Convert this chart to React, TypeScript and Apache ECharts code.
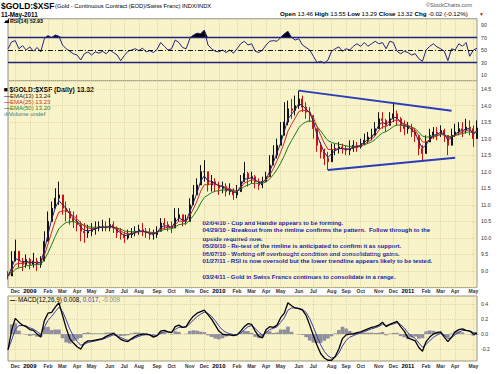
import React, { useEffect, useRef } from "react";
import * as echarts from "echarts";

// ---------- axis categories (weekly, Wednesdays, 19-Nov-2008 .. 11-May-2011) ----------
const DAY = 86400000;
const START_UTC = Date.UTC(2008, 10, 19);
const weekDates: string[] = Array.from({ length: 130 }, (_, i) =>
  new Date(START_UTC + i * 7 * DAY).toISOString().slice(0, 10)
);
const MONTH_NAMES = ["Jan", "Feb", "Mar", "Apr", "May", "Jun", "Jul", "Aug", "Sep", "Oct", "Nov", "Dec"];

// ---------- price data (weekly) ----------
const closes = [
  8.85, 9.3, 9.6, 9.3, 9.2, 9.35, 9.2, 9.3, 9.2, 9.3,
  9.9, 10.5, 10.9, 11.2, 11.3, 10.9, 10.8, 10.6, 10.5, 10.4,
  10.2, 10.15, 10.2, 10.25, 10.3, 10.35, 10.35, 10.3, 10.4, 10.3,
  10.15, 10.1, 10.0, 10.1, 10.15, 10.2, 10.25, 10.2, 10.15, 10.1,
  10.1, 10.2, 10.45, 10.4, 10.35, 10.3, 10.6, 10.7, 10.5, 10.5,
  11.0, 11.3, 11.6, 12.0, 12.0, 11.6, 11.7, 11.6, 11.5, 11.55,
  11.4, 11.45, 11.3, 11.4, 11.7, 11.95, 11.8, 11.85, 11.7, 11.6,
  11.7, 11.85, 12.2, 12.5, 12.8, 13.1, 13.5, 13.9, 13.85, 14.0,
  14.2, 13.95, 13.8, 13.7, 13.3, 12.8, 12.6, 12.4, 12.3, 12.65,
  12.7, 12.75, 12.7, 12.65, 12.7, 12.8, 12.75, 12.85, 12.95, 13.05,
  13.1, 13.3, 13.6, 13.55, 13.4, 13.6, 13.75, 13.6, 13.4, 13.3,
  13.35, 13.2, 13.1, 12.7, 12.55, 12.9, 13.1, 13.2, 13.15, 13.25,
  13.1, 12.8, 13.1, 13.2, 13.3, 13.25, 13.35, 13.3, 13.0, 13.32,
];
const highs = [
  9.0, 9.6, 9.95, 9.6, 9.4, 9.5, 9.4, 9.55, 9.4, 9.45,
  10.2, 10.8, 11.1, 11.5, 11.7, 11.3, 11.1, 10.9, 10.8, 10.7,
  10.5, 10.45, 10.4, 10.45, 10.5, 10.5, 10.55, 10.5, 10.6, 10.5,
  10.35, 10.3, 10.2, 10.25, 10.3, 10.35, 10.4, 10.45, 10.3, 10.3,
  10.25, 10.35, 10.6, 10.6, 10.5, 10.5, 10.9, 10.9, 10.7, 10.7,
  11.2, 11.6, 11.8, 12.2, 12.35, 12.0, 11.9, 11.8, 11.7, 11.7,
  11.65, 11.65, 11.5, 11.6, 11.9, 12.3, 12.0, 12.0, 11.9, 11.8,
  11.85, 12.0, 12.5, 12.8, 13.0, 13.5, 14.1, 14.15, 14.2, 14.3,
  14.45, 14.3, 14.1, 13.95, 13.7, 13.3, 12.9, 12.7, 12.6, 12.85,
  12.85, 12.9, 12.85, 12.8, 12.95, 12.95, 12.9, 13.0, 13.15, 13.2,
  13.3, 13.5, 13.8, 13.8, 13.6, 13.8, 14.1, 13.85, 13.65, 13.55,
  13.5, 13.45, 13.3, 13.05, 12.8, 13.1, 13.3, 13.35, 13.35, 13.4,
  13.3, 13.05, 13.3, 13.45, 13.5, 13.5, 13.6, 13.55, 13.4, 13.55,
];
const lows = [
  8.75, 8.9, 9.3, 9.1, 9.0, 9.1, 9.05, 9.1, 9.0, 9.1,
  9.3, 10.1, 10.6, 10.9, 11.0, 10.7, 10.5, 10.4, 10.3, 10.2,
  9.9, 9.85, 10.0, 10.05, 10.1, 10.2, 10.2, 10.2, 10.2, 10.15,
  10.0, 9.95, 9.85, 9.95, 10.0, 10.05, 10.1, 10.05, 10.0, 9.95,
  9.95, 10.0, 10.2, 10.25, 10.2, 10.15, 10.3, 10.5, 10.35, 10.4,
  10.6, 11.0, 11.3, 11.6, 11.7, 11.4, 11.4, 11.4, 11.3, 11.35,
  11.25, 11.3, 11.15, 11.2, 11.45, 11.7, 11.55, 11.65, 11.5, 11.45,
  11.5, 11.7, 11.9, 12.2, 12.4, 12.8, 13.2, 13.4, 13.6, 13.7,
  13.9, 13.8, 13.6, 13.5, 13.0, 12.6, 12.4, 12.2, 12.05, 12.4,
  12.5, 12.55, 12.55, 12.5, 12.5, 12.6, 12.6, 12.7, 12.8, 12.85,
  12.95, 13.1, 13.3, 13.3, 13.2, 13.4, 13.5, 13.4, 13.2, 13.1,
  13.15, 13.05, 12.9, 12.5, 12.35, 12.6, 12.9, 13.0, 12.95, 13.05,
  12.9, 12.5, 12.9, 13.05, 13.1, 13.05, 13.15, 13.1, 12.75, 13.29,
];

// trendlines: [week index, price]
const upperTrend = [[80, 14.45], [122, 13.84]];
const lowerTrend = [[88, 12.05], [123, 12.42]];

// ---------- RSI(14) (weekly samples) ----------
const rsi = [
  52, 63, 65, 52, 57, 50, 55, 48, 54, 47,
  68, 73, 70, 74, 72, 58, 52, 48, 44, 42,
  34, 44, 47, 42, 47, 45, 48, 44, 50, 46,
  42, 33, 41, 48, 50, 52, 49, 53, 47, 49,
  46, 51, 62, 56, 50, 52, 66, 62, 54, 52,
  68, 74, 77, 76, 82, 58, 52, 48, 47, 50,
  46, 50, 45, 52, 60, 64, 58, 60, 48, 46,
  50, 58, 64, 65, 64, 70, 76, 80, 70, 66,
  68, 58, 54, 50, 40, 30, 32, 29, 34, 48,
  52, 55, 48, 52, 50, 56, 60, 56, 62, 56,
  60, 64, 60, 62, 52, 64, 62, 48, 44, 48,
  46, 42, 44, 36, 32, 50, 56, 60, 55, 52,
  48, 33, 52, 50, 60, 56, 62, 40, 50, 52.93,
];
const rsiTicks = [10, 30, 50, 70, 90];

// ---------- MACD(12,26,9) line (weekly samples) ----------
const macd = [
  -0.21, 0.05, 0.21, 0.16, 0.12, 0.1, 0.06, 0.05, 0.0, -0.04,
  0.18, 0.28, 0.29, 0.36, 0.42, 0.25, 0.08, -0.06, -0.12, -0.17,
  -0.2, -0.12, -0.09, -0.09, -0.08, -0.07, -0.06, -0.03, -0.01, 0.01,
  -0.03, -0.07, -0.09, -0.1, -0.06, -0.03, -0.01, 0.0, 0.0, -0.01,
  -0.04, -0.02, 0.04, 0.05, 0.03, 0.02, 0.1, 0.12, 0.09, 0.1,
  0.18, 0.24, 0.28, 0.3, 0.32, 0.26, 0.2, 0.12, 0.04, 0.0,
  -0.01, -0.01, -0.02, -0.01, 0.04, 0.1, 0.14, 0.13, 0.04, -0.03,
  -0.05, 0.06, 0.1, 0.09, 0.12, 0.22, 0.28, 0.42, 0.38, 0.35,
  0.34, 0.32, 0.25, 0.12, -0.02, -0.15, -0.26, -0.32, -0.35, -0.35,
  -0.3, -0.2, -0.06, -0.01, 0.0, 0.0, 0.02, 0.03, 0.05, 0.07,
  0.09, 0.1, 0.12, 0.16, 0.1, 0.13, 0.15, 0.17, 0.1, 0.04,
  -0.05, -0.07, -0.09, -0.18, -0.23, -0.1, -0.04, 0.0, 0.02, 0.03,
  -0.04, -0.1, -0.04, 0.03, 0.06, 0.07, 0.05, 0.04, 0.0, 0.008,
];

// ---------- indicator derivations (as the chart defines them) ----------
function ema(src: number[], periodWeeks: number): number[] {
  const a = 2 / (periodWeeks + 1);
  const out: number[] = [];
  src.forEach((v, i) => out.push(i === 0 ? v : out[i - 1] + a * (v - out[i - 1])));
  return out.map((v) => Math.round(v * 1000) / 1000);
}
const ema13 = ema(closes, 13 / 5);
const ema25 = ema(closes, 25 / 5);
const ema50 = ema(closes, 50 / 5);
const signal = ema(macd, 3);
const hist = macd.map((v, i) => Math.round((v - signal[i]) * 1000) / 1000);
const ohlc = closes.map((c, i) => {
  const o = i === 0 ? 8.9 : closes[i - 1];
  return [o, c, Math.min(lows[i], o, c), Math.max(highs[i], o, c)];
});

// ---------- styling ----------
const FF = '"Liberation Sans", Arial, Helvetica, sans-serif';
const BG = "#F8F3C8";
const GRID_LINE = "#D3CB9C";
const NAVY = "#23237E";

function monthKey(dateStr: string): number {
  const d = new Date(Date.parse(dateStr) + 3 * DAY);
  return d.getUTCFullYear() * 12 + d.getUTCMonth();
}
const isMonthStart = (i: number) => i > 0 && monthKey(weekDates[i]) !== monthKey(weekDates[i - 1]);
const monthLabel = (v: string) => {
  const k = monthKey(v);
  const m = k % 12;
  return m === 0 ? `{y|${Math.floor(k / 12)}}` : `{m|${MONTH_NAMES[m]}}`;
};

const L = 8;
const R = 23;

function txt(x: number, y: number, text: string, size: number, o: any = {}) {
  return {
    type: "text",
    x,
    y,
    silent: true,
    style: {
      text,
      fontSize: size,
      fontFamily: FF,
      fontWeight: o.bold ? "bold" : "normal",
      fill: o.color || "#000",
      align: o.align || "left",
      verticalAlign: "middle",
      textAlign: o.align || "left",
      textVerticalAlign: "middle",
      rich: o.rich,
    },
  };
}

function xAxisFor(gridIndex: number, showLabels: boolean, margin: number) {
  return {
    type: "category",
    gridIndex,
    data: weekDates,
    boundaryGap: false,
    axisLine: { show: false },
    axisTick: { show: false },
    axisLabel: {
      show: showLabels,
      interval: (i: number) => isMonthStart(i),
      formatter: monthLabel,
      margin,
      rich: {
        m: { fontSize: 5, fontFamily: FF, fontWeight: "bold", color: "#333" },
        y: { fontSize: 6, fontFamily: FF, fontWeight: "bold", color: "#000" },
      },
    },
    splitLine: {
      show: true,
      interval: (i: number) => isMonthStart(i),
      lineStyle: { color: GRID_LINE, type: [1, 1], width: 0.7 },
    },
  };
}

const yLabel = { fontSize: 5.2, fontFamily: FF, color: "#333", margin: 4 };
const gridBox = { left: L, right: R, show: true, backgroundColor: BG, borderColor: "#7a7a7a", borderWidth: 0.8 };

const annotations = [
  { y: 222.7, t: "02/04/10 - Cup and Handle appears to be forming." },
  { y: 230.2, t: "04/29/10 - Breakout from the rimline confirms the pattern.  Follow through to the" },
  { y: 238.5, t: "upside required now." },
  { y: 246.2, t: "05/20/10 - Re-test of the rimline is anticipated to confirm it as support." },
  { y: 253.8, t: "06/07/10 - Working off overbought condition and consolidating gains." },
  { y: 261.4, t: "01/27/11 - RSI is now oversold but the lower trendline appears likely to be tested." },
  { y: 277.0, t: "03/24/11 - Gold in Swiss Francs continues to consolidate in a range." },
];

const rs = (size: number, color: string, bold = false) => ({ fontSize: size, fontFamily: FF, fontWeight: bold ? "bold" : "normal", fill: color });

export default function App() {
  const ref = useRef<HTMLDivElement>(null);
  useEffect(() => {
    if (!ref.current) return;
    const chart = echarts.init(ref.current, undefined, { renderer: "svg" });
    const option: any = {
      animation: false,
      backgroundColor: "#ffffff",
      grid: [
        { ...gridBox, top: 18.75, height: 62.5 },
        { ...gridBox, top: 80.7, height: 206.9 },
        { ...gridBox, top: 296, height: 65 },
      ],
      xAxis: [xAxisFor(0, false, 0), xAxisFor(1, true, 0.5), xAxisFor(2, true, 2)],
      yAxis: [
        {
          type: "value", gridIndex: 0, position: "right", min: 0, max: 100, interval: 10,
          axisLine: { show: false }, axisTick: { show: false }, splitLine: { show: false },
          axisLabel: { ...yLabel, formatter: (v: number) => (rsiTicks.includes(v) ? String(v) : "") },
        },
        {
          type: "value", gridIndex: 1, position: "right", min: 8.5, max: 14.75, interval: 0.5,
          axisLine: { show: false }, axisTick: { show: false },
          splitLine: { show: true, lineStyle: { color: GRID_LINE, type: [1, 1], width: 0.7 } },
          axisLabel: { ...yLabel, showMinLabel: false, showMaxLabel: false, formatter: (v: number) => v.toFixed(1) },
        },
        {
          type: "value", gridIndex: 2, position: "right", min: -0.36, max: 0.51, splitNumber: 4,
          axisLine: { show: false }, axisTick: { show: false },
          splitLine: { show: true, lineStyle: { color: GRID_LINE, type: [1, 1], width: 0.7 } },
          axisLabel: { ...yLabel, showMinLabel: false, showMaxLabel: false, formatter: (v: number) => v.toFixed(1) },
        },
      ],
      series: [
        // RSI overbought fill
        {
          type: "line", xAxisIndex: 0, yAxisIndex: 0, stack: "ob", silent: true, symbol: "none",
          data: rsi.map(() => 70), lineStyle: { width: 0, opacity: 0 },
        },
        {
          type: "line", xAxisIndex: 0, yAxisIndex: 0, stack: "ob", silent: true, symbol: "none",
          data: rsi.map((v) => Math.max(0, v - 70)), lineStyle: { width: 0, opacity: 0 },
          areaStyle: { color: "#000", opacity: 1 },
        },
        {
          type: "line", xAxisIndex: 0, yAxisIndex: 0, data: rsi, symbol: "none", silent: true,
          lineStyle: { color: NAVY, width: 1 },
          markLine: {
            silent: true, symbol: "none", label: { show: false },
            data: [
              { yAxis: 70, lineStyle: { color: NAVY, width: 1.3, type: "solid" } },
              { yAxis: 30, lineStyle: { color: NAVY, width: 1.3, type: "solid" } },
              { yAxis: 50, lineStyle: { color: "#000", width: 0.9, type: [5, 2, 1, 2] } },
            ],
          },
        },
        // price
        {
          type: "candlestick", xAxisIndex: 1, yAxisIndex: 1, data: ohlc, barWidth: 1.5, silent: true,
          itemStyle: { color: "#111", color0: "#d01010", borderColor: "#111", borderColor0: "#d01010", borderWidth: 1 },
        },
        { type: "line", xAxisIndex: 1, yAxisIndex: 1, data: ema50, symbol: "none", silent: true, lineStyle: { color: "#1E7B1E", width: 1 } },
        { type: "line", xAxisIndex: 1, yAxisIndex: 1, data: ema25, symbol: "none", silent: true, lineStyle: { color: "#D02A1E", width: 1 } },
        { type: "line", xAxisIndex: 1, yAxisIndex: 1, data: ema13, symbol: "none", silent: true, lineStyle: { color: NAVY, width: 1 } },
        { type: "line", xAxisIndex: 1, yAxisIndex: 1, data: upperTrend, symbol: "none", silent: true, lineStyle: { color: "#2B3DB8", width: 2 } },
        { type: "line", xAxisIndex: 1, yAxisIndex: 1, data: lowerTrend, symbol: "none", silent: true, lineStyle: { color: "#2B3DB8", width: 2 } },
        // MACD
        {
          type: "bar", xAxisIndex: 2, yAxisIndex: 2, data: hist, barCategoryGap: "0%", silent: true,
          itemStyle: { color: "#8E8E9E" },
        },
        { type: "line", xAxisIndex: 2, yAxisIndex: 2, data: signal, symbol: "none", silent: true, lineStyle: { color: "#3A3AB0", width: 1 } },
        { type: "line", xAxisIndex: 2, yAxisIndex: 2, data: macd, symbol: "none", silent: true, lineStyle: { color: "#000", width: 1.3 } },
      ],
      graphic: [
        txt(1, 5.8, "$GOLD:$XSF", 8.5, { bold: true }),
        txt(55, 6.2, "(Gold - Continuous Contract (EOD)/Swiss Franc) INDX/INDX", 5.8),
        txt(1, 14, "11-May-2011", 6.3, { bold: true }),
        txt(472, 4.5, "\u00A9StockCharts.com", 5.5, { align: "right", color: "#555" }),
        txt(280, 13.5, "{b|Open} 13.46 {b|High} 13.55 {b|Low} 13.29 {b|Close} 13.32 {b|Chg} -0.02 (-0.12%)", 6.2, {
          rich: { b: rs(6.2, "#000", true) },
        }),
        txt(479, 13.5, "\u25BC", 5, { color: "#d01010" }),
        { type: "polygon", silent: true, shape: { points: [[4, 23], [6, 20], [7, 21], [9, 18.5], [9, 23]] }, style: { fill: "#000" } },
        txt(10, 21, "RSI(14) 52.93", 5.3, { bold: true }),
        txt(3.5, 89.5, "\u25A0 $GOLD:$XSF (Daily) 13.32", 6.8, { bold: true }),
        txt(4, 95.8, "{d|\u2014}EMA(13) 13.24", 6, { color: "#111", rich: { d: rs(6, NAVY, true) } }),
        txt(4, 102.2, "{d|\u2014}EMA(25) 13.23", 6, { color: "#D02A1E", rich: { d: rs(6, "#D02A1E", true) } }),
        txt(4, 108.4, "{d|\u2014}EMA(50) 13.20", 6, { color: "#1E7B1E", rich: { d: rs(6, "#1E7B1E", true) } }),
        txt(4, 114.4, "\u0131l\u0131Volume undef", 6, { color: "#2F8080" }),
        txt(10, 299.5, "{d|\u2014} MACD(12,26,9) 0.008, {s|0.017,} {h|-0.009}", 6.3, {
          rich: { d: rs(6.3, "#000", true), s: rs(6.3, "#3A3AB0"), h: rs(6.3, "#888") },
        }),
        ...annotations.map((a) => txt(202.5, a.y, a.t, 6, { bold: true, color: "#1A1AA8" })),
      ],
    };
    chart.setOption(option);
    return () => chart.dispose();
  }, []);
  return <div ref={ref} style={{ position: "fixed", left: 0, top: 0, width: 500, height: 374 }} />;
}
